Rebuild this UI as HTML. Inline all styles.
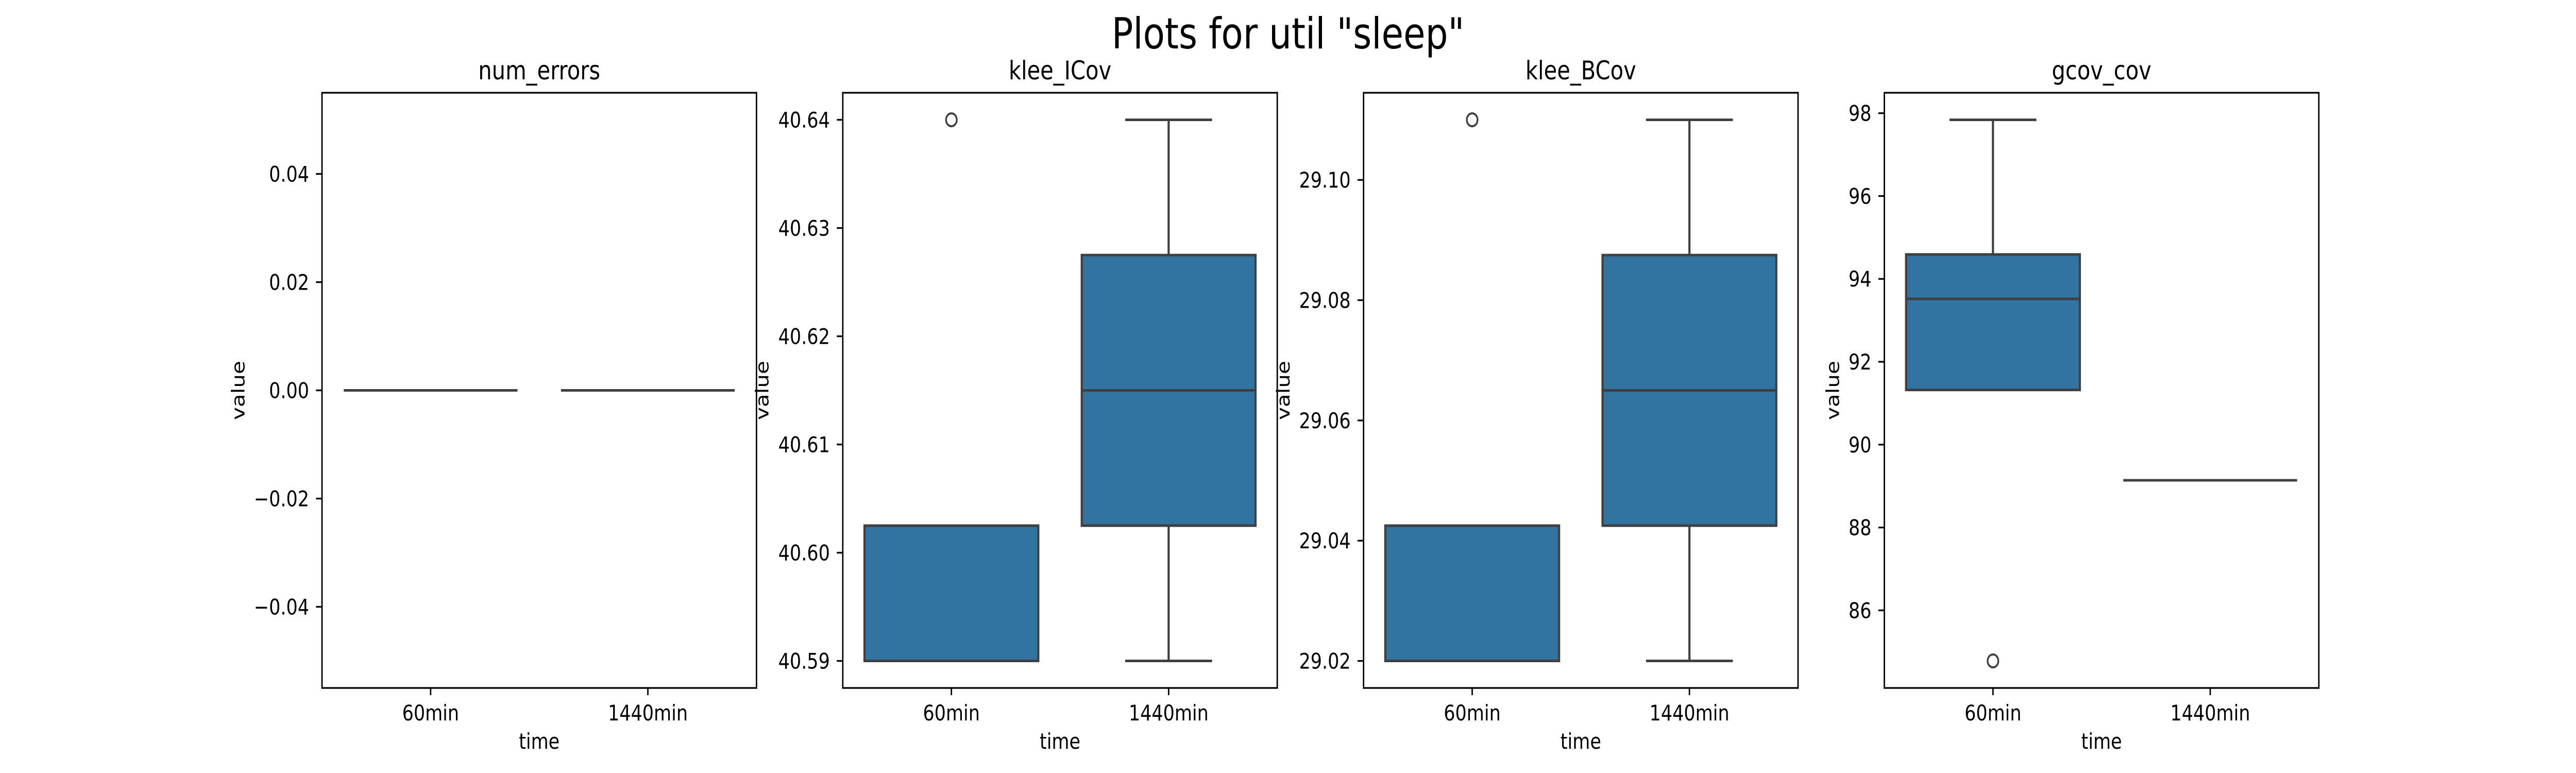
<!DOCTYPE html>
<html><head><meta charset="utf-8">
<style>
html,body{margin:0;padding:0;background:#fff;width:100%;height:100%;overflow:hidden;}
svg{display:block;width:100vw;height:100vh;font-family:"DejaVu Sans","Liberation Sans",sans-serif;}
</style></head>
<body>
<svg id="fig" viewBox="0 0 6000 1500" preserveAspectRatio="none" xmlns="http://www.w3.org/2000/svg" overflow="hidden">
<rect width="6000" height="1500" fill="#fff"/>
<text x="3000" y="94" font-size="83" text-anchor="middle">Plots for util "sleep"</text>
</svg>
<script>
// ---- data ----
const panelTitles = ["num_errors", "klee_ICov", "klee_BCov", "gcov_cov"];
const categories = ["60min", "1440min"];
// per panel, per category: [whiskerLow, q1, median, q3, whiskerHigh]
const statsNumErrors = [[0, 0, 0, 0, 0], [0, 0, 0, 0, 0]];
const statsIcov = [[40.59, 40.59, 40.59, 40.6025, 40.6025], [40.59, 40.6025, 40.615, 40.6275, 40.64]];
const statsBcov = [[29.02, 29.02, 29.02, 29.0425, 29.0425], [29.02, 29.0425, 29.065, 29.0875, 29.11]];
const statsGcov = [[91.32, 91.32, 93.52, 94.59, 97.84], [89.14, 89.14, 89.14, 89.14, 89.14]];
const outliersNumErrors = [[], []];
const outliersIcov = [[40.64], []];
const outliersBcov = [[29.11], []];
const outliersGcov = [[84.78], []];
const ticksNumErrors = [-0.04, -0.02, 0, 0.02, 0.04];
const ticksIcov = [40.59, 40.60, 40.61, 40.62, 40.63, 40.64];
const ticksBcov = [29.02, 29.04, 29.06, 29.08, 29.10];
const ticksGcov = [86, 88, 90, 92, 94, 96, 98];
const tickDecimals = [2, 2, 2, 0];

// ---- layout ----
const NS = "http://www.w3.org/2000/svg";
const svg = document.getElementById("fig");
const lefts = [750, 1963, 3176, 4389];
const axW = 1012, top_ = 180, bottom_ = 1335;
const ylabelOffsets = [194, 187, 186, 119];
const allStats = [statsNumErrors, statsIcov, statsBcov, statsGcov];
const allOut = [outliersNumErrors, outliersIcov, outliersBcov, outliersGcov];
const allTicks = [ticksNumErrors, ticksIcov, ticksBcov, ticksGcov];
const LINE = "#3f3f3f", FILL = "#3274a1";

function mk(tag, attrs, parent) {
  const e = document.createElementNS(NS, tag);
  for (const k in attrs) e.setAttribute(k, attrs[k]);
  (parent || svg).appendChild(e);
  return e;
}
function fmt(v, d) {
  let s = Math.abs(v).toFixed(d);
  return (v < -1e-12 ? "\u2212" : "") + s;
}

for (let p = 0; p < 4; p++) {
  const L = lefts[p];
  const stats = allStats[p], outs = allOut[p];
  let vals = [];
  stats.forEach(s => vals.push(...s));
  outs.forEach(o => vals.push(...o));
  let mn = Math.min(...vals), mx = Math.max(...vals);
  let lo, hi;
  if (mx - mn < 1e-12) { lo = mn - 0.055; hi = mx + 0.055; }
  else { const m = (mx - mn) * 0.05; lo = mn - m; hi = mx + m; }
  const y = v => bottom_ - (v - lo) / (hi - lo) * (bottom_ - top_);
  const band = axW / categories.length;
  const x = i => L + band * (i + 0.5);

  const g = mk("g", {});
  
  

  const t = mk("text", {x: L + axW / 2, y: 154, "font-size": 50, "text-anchor": "middle"}, g);
  t.textContent = panelTitles[p];
  
  

  stats.forEach((s, i) => {
    const cx = x(i), bw = band * 0.8, cw = band * 0.4;
    const bg = mk("g", {}, g);
    
    
    if (s[1] > s[0]) {
      mk("line", {x1: cx, x2: cx, y1: y(s[0]), y2: y(s[1]), stroke: LINE, "stroke-width": 5}, bg);
      mk("line", {x1: cx - cw / 2, x2: cx + cw / 2, y1: y(s[0]), y2: y(s[0]), stroke: LINE, "stroke-width": 5}, bg);
    }
    if (s[4] > s[3]) {
      mk("line", {x1: cx, x2: cx, y1: y(s[3]), y2: y(s[4]), stroke: LINE, "stroke-width": 5}, bg);
      mk("line", {x1: cx - cw / 2, x2: cx + cw / 2, y1: y(s[4]), y2: y(s[4]), stroke: LINE, "stroke-width": 5}, bg);
    }
    mk("rect", {x: cx - bw / 2, y: y(s[3]), width: bw, height: Math.max(0, y(s[1]) - y(s[3])), fill: FILL, stroke: LINE, "stroke-width": 5}, bg);
    mk("line", {x1: cx - bw / 2, x2: cx + bw / 2, y1: y(s[2]), y2: y(s[2]), stroke: LINE, "stroke-width": 5}, bg);
    outs[i].forEach(o => {
      const c = mk("circle", {cx: cx, cy: y(o), r: 12.5, fill: "none", stroke: LINE, "stroke-width": 4}, bg);
      
      
    });
  });

  const fr = mk("rect", {x: L, y: top_, width: axW, height: bottom_ - top_, fill: "none", stroke: "#000", "stroke-width": 3.3}, g);
  
  

  allTicks[p].forEach(tv => {
    const ty = y(tv);
    mk("line", {x1: L - 14, x2: L, y1: ty, y2: ty, stroke: "#000", "stroke-width": 3.3}, g);
    const tl = mk("text", {x: L - 30, y: ty + 15, "font-size": 42, "text-anchor": "end"}, g);
    tl.textContent = fmt(tv, tickDecimals[p]);
    
    
  });
  categories.forEach((c, i) => {
    mk("line", {x1: x(i), x2: x(i), y1: bottom_, y2: bottom_ + 14, stroke: "#000", "stroke-width": 3.3}, g);
    const tl = mk("text", {x: x(i), y: 1398, "font-size": 42, "text-anchor": "middle"}, g);
    tl.textContent = c;
    
    
  });
  const xl = mk("text", {x: L + axW / 2, y: 1453, "font-size": 42, "text-anchor": "middle"}, g);
  xl.textContent = "time";
  
  
  const yx = L - ylabelOffsets[p], yy = (top_ + bottom_) / 2;
  const yl = mk("text", {x: yx, y: yy, "font-size": 42, "text-anchor": "middle", "dominant-baseline": "central", transform: "rotate(-90 " + yx + " " + yy + ")"}, g);
  yl.textContent = "value";
  
  
}
</script>
</body></html>
